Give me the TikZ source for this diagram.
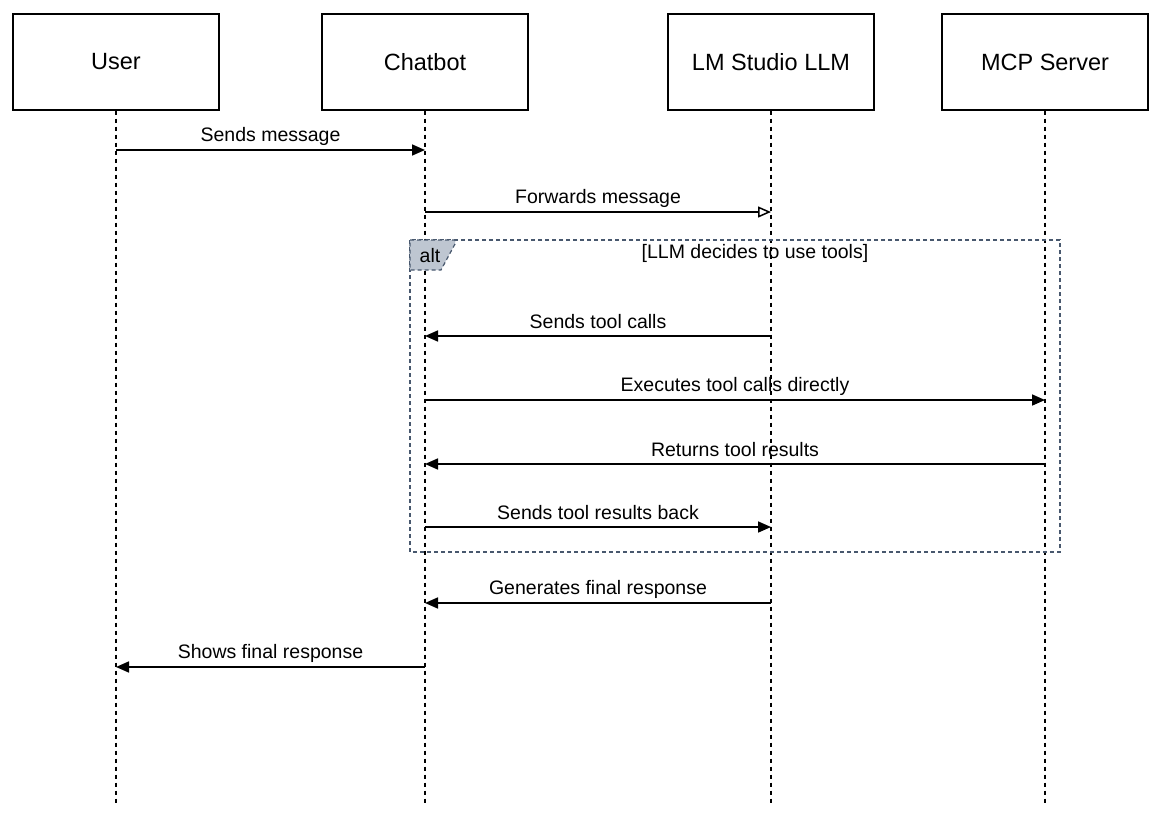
\documentclass[tikz,border=0pt]{standalone}
\usepackage{fontspec}
\setmainfont{Liberation Sans}
\usetikzlibrary{arrows.meta}
\definecolor{framecol}{RGB}{72,88,110}
\definecolor{tabfill}{RGB}{190,198,209}
\begin{document}
\begin{tikzpicture}[x=1pt,y=-1pt,
  actor/.style={draw, line width=1.3pt, minimum width=206pt, minimum height=96pt, inner sep=0, font=\fontsize{23.5}{26}\selectfont},
  lifeline/.style={line width=1.2pt, dash pattern=on 4pt off 4pt},
  msg/.style={line width=1.7pt, -{Triangle[length=13pt,width=11pt]}},
  msgopen/.style={line width=1.7pt, -{Triangle[open,length=13pt,width=11pt,line width=1.5pt]}},
  lbl/.style={midway, yshift=14pt, inner sep=0, font=\fontsize{19.5}{22}\selectfont},
  frametxt/.style={inner sep=0, font=\fontsize{19.5}{22}\selectfont}
]
\useasboundingbox (0,0) rectangle (1160,820);
\fill[white] (0,0) rectangle (1160,820);

% participants
\node[actor] (u) at (116,62) {User};
\node[actor] (c) at (425,62) {Chatbot};
\node[actor] (l) at (771,62) {LM Studio LLM};
\node[actor] (m) at (1045,62) {MCP Server};

% lifeline ends
\coordinate (bottom) at (0,805);
\draw[lifeline] (u.south) -- (u.south |- bottom);
\draw[lifeline] (c.south) -- (c.south |- bottom);
\draw[lifeline] (l.south) -- (l.south |- bottom);
\draw[lifeline] (m.south) -- (m.south |- bottom);

% alt frame
\draw[framecol, line width=1.2pt, dash pattern=on 4pt off 3pt] (410,240) rectangle (1060,552);
\draw[framecol, fill=tabfill, line width=1.2pt, dash pattern=on 4pt off 3pt]
  (410,240) -- (455,240) -- (455,244) -- (441,270) -- (410,270) -- cycle;
\node[frametxt] (alt) at (430,256) {alt};
\node[frametxt] (guard) at (755,253) {[LLM decides to use tools]};

% message rows
\coordinate (r1) at (0,150);
\coordinate (r2) at (0,212);
\coordinate (r3) at (0,336);
\coordinate (r4) at (0,400);
\coordinate (r5) at (0,464);
\coordinate (r6) at (0,527);
\coordinate (r7) at (0,603);
\coordinate (r8) at (0,667);

\draw[msg] (u.south |- r1) -- (c.south |- r1) node[lbl] {Sends message};
\draw[msgopen] (c.south |- r2) -- (l.south |- r2) node[lbl] {Forwards message};
\draw[msg] (l.south |- r3) -- (c.south |- r3) node[lbl] {Sends tool calls};
\draw[msg] (c.south |- r4) -- (m.south |- r4) node[lbl] {Executes tool calls directly};
\draw[msg] (m.south |- r5) -- (c.south |- r5) node[lbl] {Returns tool results};
\draw[msg] (c.south |- r6) -- (l.south |- r6) node[lbl] {Sends tool results back};
\draw[msg] (l.south |- r7) -- (c.south |- r7) node[lbl] {Generates final response};
\draw[msg] (c.south |- r8) -- (u.south |- r8) node[lbl] {Shows final response};
\end{tikzpicture}
\end{document}
